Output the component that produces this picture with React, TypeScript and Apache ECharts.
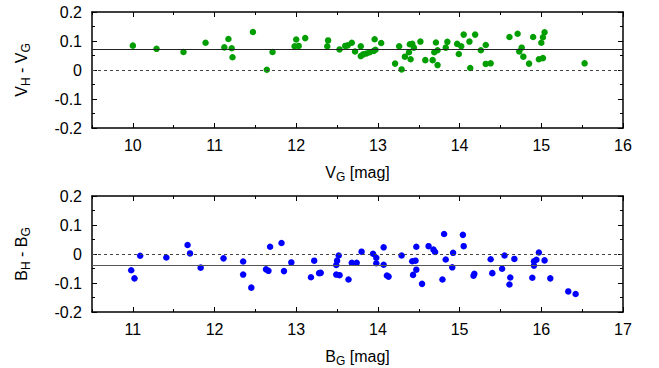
import React, { useEffect, useRef } from "react";
import * as echarts from "echarts";

// Top panel: V band
const vgMag = [
  10.0, 10.29, 10.62, 10.89, 11.12, 11.17, 11.21, 11.22, 11.47, 11.64, 11.71,
  11.98, 12.0, 12.03, 12.11, 12.38, 12.39, 12.53, 12.6, 12.63, 12.68, 12.72,
  12.79, 12.79, 12.82, 12.86, 12.9, 12.95, 12.97, 12.96, 13.04, 13.21, 13.26,
  13.29, 13.33, 13.38, 13.39, 13.42, 13.4, 13.44, 13.52, 13.58, 13.67, 13.71,
  13.69, 13.73, 13.73, 13.83, 13.85, 13.97, 14.02, 13.99, 14.05, 14.12, 14.13,
  14.19, 14.26, 14.32, 14.32, 14.38, 14.61, 14.71, 14.76, 14.73, 14.78, 14.85,
  14.9, 14.97, 15.02, 15.0, 15.02, 15.04, 15.53,
];
const vDiff = [
  0.084, 0.073, 0.062, 0.094, 0.078, 0.107, 0.075, 0.044, 0.131, 0.001, 0.062,
  0.082, 0.105, 0.083, 0.11, 0.082, 0.102, 0.071, 0.083, 0.085, 0.094, 0.064,
  0.082, 0.048, 0.054, 0.057, 0.061, 0.066, 0.07, 0.106, 0.093, 0.022, 0.082,
  0.002, 0.046, 0.061, 0.089, 0.09, 0.037, 0.077, 0.098, 0.034, 0.034, 0.095,
  0.061, 0.068, 0.017, 0.077, 0.097, 0.09, 0.082, 0.055, 0.122, 0.098, 0.007,
  0.122, 0.068, 0.086, 0.021, 0.023, 0.114, 0.125, 0.077, 0.064, 0.046, 0.022,
  0.114, 0.037, 0.041, 0.094, 0.113, 0.13, 0.023,
];
const vMean = 0.072;

// Bottom panel: B band
const bgMag = [
  10.98, 11.02, 11.09, 11.41, 11.67, 11.7, 11.83, 12.11, 12.35, 12.35, 12.45,
  12.63, 12.66, 12.68, 12.82, 12.85, 12.94, 13.18, 13.22, 13.28, 13.3, 13.49,
  13.5, 13.52, 13.49, 13.53, 13.64, 13.68, 13.74, 13.8, 13.94, 13.98, 13.98,
  14.07, 14.07, 14.11, 14.13, 14.29, 14.42, 14.46, 14.47, 14.47, 14.43, 14.54,
  14.62, 14.68, 14.7, 14.81, 14.83, 14.79, 14.91, 14.92, 15.04, 15.05, 15.17,
  15.18, 15.38, 15.4, 15.52, 15.55, 15.62, 15.61, 15.67, 15.89, 15.91, 15.91,
  15.94, 15.97, 16.04, 16.11, 16.33, 16.42,
];
const bDiff = [
  -0.056, -0.084, -0.006, -0.012, 0.031, 0.002, -0.047, -0.015, -0.026, -0.071,
  -0.116, -0.053, -0.058, 0.025, 0.038, -0.059, -0.029, -0.08, -0.023, -0.066,
  -0.065, -0.038, -0.023, -0.005, -0.071, -0.073, -0.088, -0.03, -0.03, 0.008,
  0.001, -0.013, -0.032, 0.023, -0.037, -0.074, -0.078, -0.005, -0.025, -0.023,
  0.025, -0.054, -0.072, -0.103, 0.027, 0.015, 0.007, 0.069, -0.019, -0.088,
  -0.046, 0.004, 0.066, 0.027, -0.075, -0.068, -0.018, -0.066, -0.051, -0.005,
  -0.081, -0.105, -0.017, -0.082, -0.025, -0.04, -0.02, 0.005, -0.022, -0.084,
  -0.129, -0.138,
];
const bMean = -0.035;

const vXTicks = [10, 11, 12, 13, 14, 15, 16];
const vXMinor = [9.5, 10.5, 11.5, 12.5, 13.5, 14.5, 15.5];
const bXTicks = [11, 12, 13, 14, 15, 16, 17];
const bXMinor = [10.5, 11.5, 12.5, 13.5, 14.5, 15.5, 16.5];

const FONT = "Liberation Sans, Arial, sans-serif";
const rich = {
  m: { fontSize: 16, fontFamily: FONT, color: "#000", lineHeight: 22, verticalAlign: "middle" },
  s: { fontSize: 12, fontFamily: FONT, color: "#000", lineHeight: 22, verticalAlign: "bottom" },
};

function xAxes(gridIndex: number, min: number, max: number, major: number[], minor: number[], name: string) {
  const line = { show: true, onZero: false, lineStyle: { color: "#000", width: 1.5 } };
  const noLine = { show: false, onZero: false };
  const base = { type: "value", gridIndex, min, max, splitLine: { show: false } };
  return [
    {
      ...base,
      position: "bottom",
      axisLine: line,
      axisTick: { show: true, inside: true, length: 5, customValues: major, lineStyle: { color: "#000", width: 1 } },
      axisLabel: { show: true, customValues: major, margin: 9, fontSize: 16, fontFamily: FONT, color: "#000" },
      name,
      nameLocation: "middle",
      nameGap: 33,
      nameTextStyle: { rich },
    },
    {
      ...base,
      position: "bottom",
      axisLine: noLine,
      axisTick: { show: true, inside: true, length: 3, customValues: minor, lineStyle: { color: "#000", width: 1 } },
      axisLabel: { show: false },
    },
    {
      ...base,
      position: "top",
      axisLine: line,
      axisTick: { show: true, inside: true, length: 5, customValues: major, lineStyle: { color: "#000", width: 1 } },
      axisLabel: { show: false },
    },
    {
      ...base,
      position: "top",
      axisLine: noLine,
      axisTick: { show: true, inside: true, length: 3, customValues: minor, lineStyle: { color: "#000", width: 1 } },
      axisLabel: { show: false },
    },
  ];
}

function yAxes(gridIndex: number, name: string) {
  const line = { show: true, onZero: false, lineStyle: { color: "#000", width: 1.5 } };
  const base = {
    type: "value",
    gridIndex,
    min: -0.2,
    max: 0.2,
    interval: 0.1,
    splitLine: { show: false },
    minorTick: { show: true, splitNumber: 2, length: 3, lineStyle: { color: "#000", width: 1 } },
    axisTick: { show: true, inside: true, length: 5, lineStyle: { color: "#000", width: 1 } },
  };
  return [
    {
      ...base,
      position: "left",
      axisLine: line,
      axisLabel: {
        show: true,
        margin: 10,
        fontSize: 16,
        fontFamily: FONT,
        color: "#000",
        formatter: (v: number) => String(Math.round(v * 10) / 10),
      },
      name,
      nameLocation: "middle",
      nameRotate: 90,
      nameGap: 60,
      nameTextStyle: { rich },
    },
    { ...base, position: "right", axisLine: line, axisLabel: { show: false } },
  ];
}

function refLines(mean: number, meanColor: string) {
  return {
    silent: true,
    symbol: ["none", "none"],
    label: { show: false },
    animation: false,
    data: [
      { yAxis: mean, lineStyle: { type: "solid", color: meanColor, width: 1.2 } },
      { yAxis: 0, lineStyle: { type: [3, 3], color: "#444", width: 1.2 } },
    ],
  };
}

export default function App() {
  const ref = useRef<HTMLDivElement>(null);
  useEffect(() => {
    if (!ref.current) return;
    const chart = echarts.init(ref.current, undefined, { renderer: "svg" });
    chart.setOption({
      animation: false,
      backgroundColor: "#fff",
      grid: [
        { left: 92, top: 12, width: 531, height: 116 },
        { left: 92, top: 196, width: 531, height: 117 },
      ],
      xAxis: [
        ...xAxes(0, 9.5, 16, vXTicks, vXMinor, "{m|V}{s|G}{m| [mag]}"),
        ...xAxes(1, 10.5, 17, bXTicks, bXMinor, "{m|B}{s|G}{m| [mag]}"),
      ],
      yAxis: [...yAxes(0, "{m|V}{s|H}{m| - V}{s|G}"), ...yAxes(1, "{m|B}{s|H}{m| - B}{s|G}")],
      series: [
        {
          type: "scatter",
          xAxisIndex: 0,
          yAxisIndex: 0,
          symbolSize: 6.5,
          itemStyle: { color: "#009e00", opacity: 1 },
          data: vgMag.map((x, i) => [x, vDiff[i]]),
          markLine: refLines(vMean, "#222"),
          z: 3,
        },
        {
          type: "scatter",
          xAxisIndex: 4,
          yAxisIndex: 2,
          symbolSize: 6.5,
          itemStyle: { color: "#0000ff", opacity: 1 },
          data: bgMag.map((x, i) => [x, bDiff[i]]),
          markLine: refLines(bMean, "#555"),
          z: 3,
        },
      ],
    });
    return () => chart.dispose();
  }, []);
  return (
    <div
      ref={ref}
      style={{ position: "fixed", left: 0, top: 0, width: 659, height: 368 }}
    />
  );
}
